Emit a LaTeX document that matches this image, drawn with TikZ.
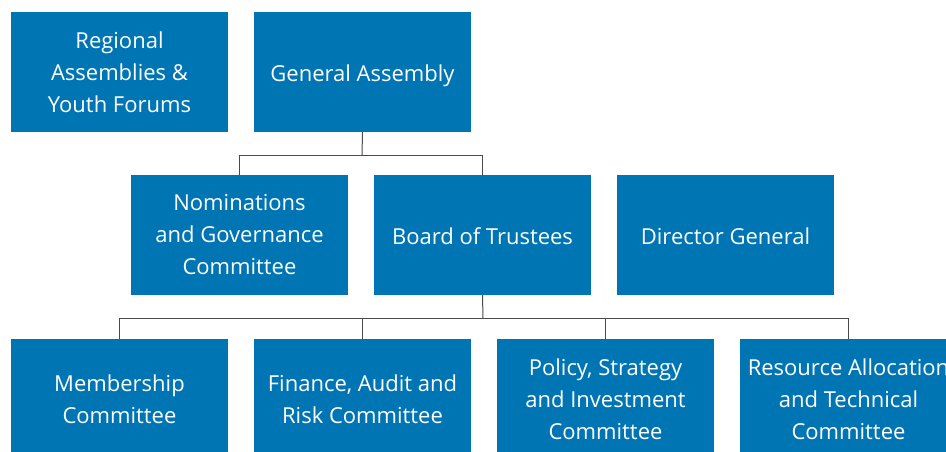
\documentclass[tikz,border=0pt]{standalone}
\usepackage{fontspec}
\setmainfont{Open Sans}
\definecolor{boxblue}{HTML}{0075B4}
\definecolor{linegray}{HTML}{4A4A4A}
\begin{document}
\begin{tikzpicture}[x=1pt,y=-1pt,
  orgbox/.style={fill=boxblue,draw=none,text=white,minimum width=217pt,minimum height=120pt,inner sep=0pt,align=center,font=\fontsize{22}{32}\selectfont},
  oneline/.style={text height=19pt,text depth=0pt},
  conn/.style={draw=linegray,line width=1pt}]
\useasboundingbox (0,0) rectangle (946,452);
\clip (0,0) rectangle (946,452);
\node[orgbox] (reg) at (119.5,72) {Regional\\Assemblies \&\\Youth Forums};
\node[orgbox,oneline] (ga) at (362.5,72) {General Assembly};
\node[orgbox] (nom) at (239.5,235) {Nominations\\and Governance\\Committee};
\node[orgbox,oneline] (bot) at (482.5,235) {Board of Trustees};
\node[orgbox,oneline] (dg) at (725.5,235) {Director General};
\node[orgbox] (mem) at (119.5,399) {Membership\\Committee};
\node[orgbox] (fin) at (362.5,399) {Finance, Audit and\\Risk Committee};
\node[orgbox] (pol) at (605.5,399) {Policy, Strategy\\and Investment\\Committee};
\node[orgbox] (res) at (848.5,399) {Resource Allocation\\and Technical\\Committee};
\coordinate (j1) at (362,155);
\coordinate (j2) at (483,318);
\draw[conn] (ga.south) -- (j1);
\draw[conn] (j1) -| (nom.north);
\draw[conn] (j1) -| (bot.north);
\draw[conn] (bot.south) -- (j2);
\draw[conn] (j2) -| (mem.north);
\draw[conn] (j2) -| (fin.north);
\draw[conn] (j2) -| (pol.north);
\draw[conn] (j2) -| (res.north);
\end{tikzpicture}
\end{document}
